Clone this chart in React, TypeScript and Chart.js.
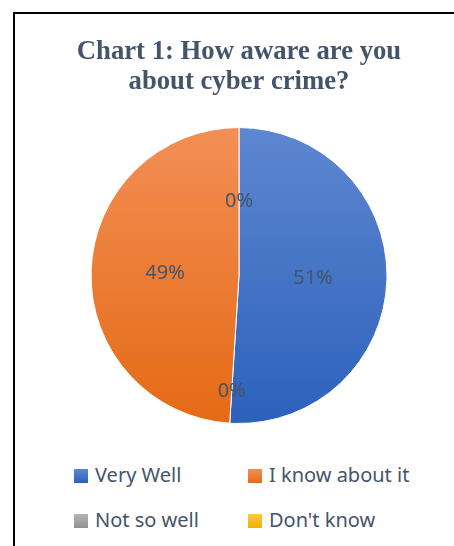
import React, { useEffect, useRef } from "react";
import { Chart, registerables } from "chart.js";

Chart.register(...registerables);

// Data (chart order, clockwise from 12 o'clock)
const categories = ["Very Well", "Not so well", "I know about it", "Don't know"];
const values = [51, 0, 49, 0];
// Legend order (indices into categories)
const legendOrder = [0, 2, 1, 3];
const titleLines = ["Chart 1: How aware are you", "about cyber crime?"];

// Colors: [top, bottom] of vertical gradient
const sliceColors: [string, string][] = [
  ["#5E87D0", "#2C61BC"],
  ["#B5B5B5", "#919191"],
  ["#F38F55", "#E56A15"],
  ["#FFCB3A", "#EDB100"],
];
const labelRadius = [0.5, 0.785, 0.5, 0.5];
const TEXT_COLOR = "#44546A";
const SANS = "'Noto Sans', 'Open Sans', sans-serif";

const labelPlugin = {
  id: "sliceLabels",
  afterDatasetsDraw(chart: any) {
    const ctx = chart.ctx;
    const meta = chart.getDatasetMeta(0);
    const data = chart.data.datasets[0].data as number[];
    const total = data.reduce((a, b) => a + b, 0);
    ctx.save();
    ctx.font = `20px ${SANS}`;
    ctx.fillStyle = TEXT_COLOR;
    ctx.textAlign = "center";
    ctx.textBaseline = "middle";
    meta.data.forEach((arc: any, i: number) => {
      const p = arc.getProps(["x", "y", "startAngle", "endAngle", "outerRadius"], true);
      const mid = (p.startAngle + p.endAngle) / 2;
      const r = p.outerRadius * labelRadius[i];
      const x = p.x + Math.cos(mid) * r;
      const y = p.y + Math.sin(mid) * r;
      const pct = Math.round((data[i] / total) * 100);
      ctx.fillText(`${pct}%`, x, y);
    });
    ctx.restore();
  },
};

export default function App() {
  const canvasRef = useRef<HTMLCanvasElement | null>(null);

  useEffect(() => {
    if (!canvasRef.current) return;
    const chart = new Chart(canvasRef.current, {
      type: "pie",
      data: {
        labels: categories,
        datasets: [
          {
            data: values,
            backgroundColor: (c: any) => {
              const ch = c.chart;
              const area = ch.chartArea;
              const col = sliceColors[c.dataIndex] || sliceColors[0];
              if (!area) return col[0];
              const g = ch.ctx.createLinearGradient(0, area.top, 0, area.bottom);
              g.addColorStop(0, col[0]);
              g.addColorStop(1, col[1]);
              return g;
            },
            borderColor: "#ffffff",
            borderWidth: 1,
          },
        ],
      },
      options: {
        responsive: false,
        animation: false,
        layout: { padding: 0 },
        plugins: {
          legend: { display: false },
          tooltip: { enabled: false },
          title: {
            display: true,
            text: titleLines,
            color: TEXT_COLOR,
            font: {
              family: "'Liberation Serif', 'Times New Roman', serif",
              size: 26.7,
              weight: "bold",
              lineHeight: 1.13,
            },
            padding: { top: 37, bottom: 29.7 },
          },
        },
      },
      plugins: [labelPlugin],
    });
    return () => chart.destroy();
  }, []);

  const legendPos = [
    { left: 74, top: 469 },
    { left: 248, top: 469 },
    { left: 74, top: 514 },
    { left: 248, top: 514 },
  ];

  return (
    <div
      style={{
        position: "fixed",
        left: 0,
        top: 0,
        width: 454,
        height: 546,
        overflow: "hidden",
        background: "#ffffff",
      }}
    >
      <div
        style={{
          position: "absolute",
          left: 13,
          top: 12,
          width: 520,
          height: 600,
          borderLeft: "2px solid #000",
          borderTop: "2px solid #000",
        }}
      />
      <canvas
        ref={canvasRef}
        width={400}
        height={424}
        style={{ position: "absolute", left: 39, top: 0, width: 400, height: 424 }}
      />
      {legendOrder.map((idx, k) => {
        const pos = legendPos[k];
        const col = sliceColors[idx];
        return (
          <div key={idx}>
            <div
              style={{
                position: "absolute",
                left: pos.left,
                top: pos.top,
                width: 14,
                height: 14,
                background: `linear-gradient(${col[0]}, ${col[1]})`,
              }}
            />
            <div
              style={{
                position: "absolute",
                left: pos.left + 21,
                top: pos.top - 4,
                fontFamily: SANS,
                fontSize: 20,
                lineHeight: "20px",
                color: TEXT_COLOR,
                whiteSpace: "nowrap",
              }}
            >
              {categories[idx]}
            </div>
          </div>
        );
      })}
    </div>
  );
}
